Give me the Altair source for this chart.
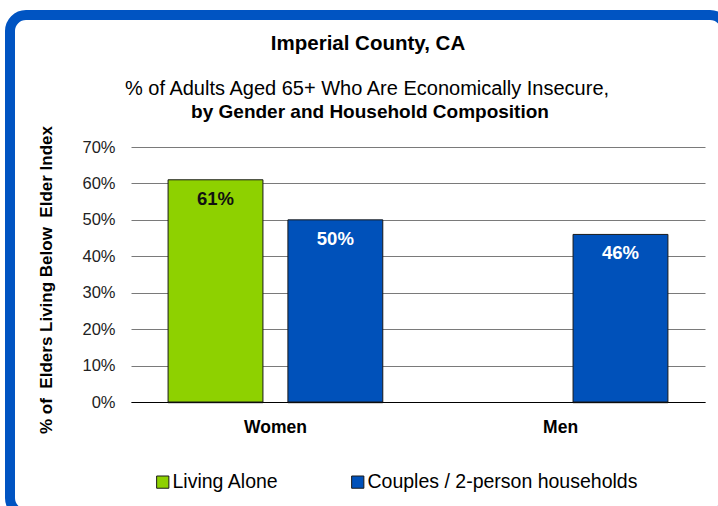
import altair as alt
import pandas as pd

# ---- data ----
genders = ["Women", "Women", "Men"]
series = ["Living Alone", "Couples / 2-person households", "Couples / 2-person households"]
values = [0.61, 0.50, 0.46]
labels = ["61%", "50%", "46%"]

gender_order = ["Women", "Men"]
series_order = ["Living Alone", "Couples / 2-person households"]
series_colors = ["#8ED100", "#0051BA"]
y_ticks = [0, 0.1, 0.2, 0.3, 0.4, 0.5, 0.6, 0.7]

title_main = "Imperial County, CA"
title_line1 = "% of Adults Aged 65+ Who Are Economically Insecure,"
title_line2 = "by Gender and Household Composition"
y_title = "% of\u00a0 Elders Living Below\u00a0 Elder Index"

df = pd.DataFrame({"gender": genders, "series": series, "value": values, "label": labels})

FONT = "Liberation Sans"
W, H = 574, 255

x_enc = alt.X("gender:N", sort=gender_order,
              scale=alt.Scale(domain=gender_order, paddingInner=0.247, paddingOuter=0.13),
              axis=alt.Axis(title=None, labelAngle=0, labelFontSize=17.5, labelFontWeight="bold",
                            labelColor="#000", labelPadding=16, ticks=False, domain=True,
                            domainColor="#000", domainWidth=1, grid=False))
xo_enc = alt.XOffset("series:N", sort=series_order,
                     scale=alt.Scale(domain=series_order, paddingInner=0.2083, paddingOuter=0))
y_enc = alt.Y("value:Q", scale=alt.Scale(domain=[0, 0.7], nice=False),
              axis=alt.Axis(title=None, values=y_ticks, format=".0%", labelFontSize=16.5,
                            labelColor="#222", labelPadding=16, ticks=False, domain=False,
                            grid=True, gridColor="#7a7a7a", gridWidth=1, labelOverlap=False))

base = alt.Chart(df)

shadow = base.mark_bar(color="#000", opacity=0.18, xOffset=3, yOffset=2).encode(
    x=x_enc, xOffset=xo_enc, y=y_enc
)

bars = base.mark_bar(stroke="#1a1a1a", strokeWidth=1).encode(
    x=x_enc, xOffset=xo_enc, y=y_enc,
    color=alt.Color("series:N", sort=series_order,
                    scale=alt.Scale(domain=series_order, range=series_colors),
                    legend=alt.Legend(title=None, orient="none", legendX=22, legendY=325,
                                      direction="horizontal", symbolType="square",
                                      symbolSize=150, symbolStrokeColor="#1a1a1a",
                                      symbolStrokeWidth=1, labelFontSize=19.5,
                                      labelColor="#000", labelOffset=0, columnPadding=69,
                                      labelLimit=400)),
)

texts = base.mark_text(fontSize=18.5, fontWeight="bold", baseline="middle", dy=19).encode(
    x=x_enc, xOffset=xo_enc, y=y_enc,
    text="label:N",
    color=alt.condition(alt.datum.series == "Living Alone", alt.value("#111"), alt.value("#fff")),
)

one = pd.DataFrame({"k": [0]})

frame = alt.Chart(one).mark_rect(fill=None, stroke="#0054C2", strokeWidth=10,
                                  cornerRadius=16).encode(
    x=alt.value(10 - 131), x2=alt.value(726 - 131),
    y=alt.value(15 - 147), y2=alt.value(514 - 147),
)

t0 = alt.Chart(one).mark_text(fontSize=20.5, fontWeight="bold", color="#000", baseline="alphabetic").encode(
    x=alt.value(368 - 131), y=alt.value(50 - 147), text=alt.value(title_main))
t1 = alt.Chart(one).mark_text(fontSize=20, color="#000", baseline="alphabetic").encode(
    x=alt.value(367 - 131), y=alt.value(95 - 147), text=alt.value(title_line1))
t2 = alt.Chart(one).mark_text(fontSize=19, fontWeight="bold", color="#000", baseline="alphabetic").encode(
    x=alt.value(370 - 131), y=alt.value(118 - 147), text=alt.value(title_line2))
ty = alt.Chart(one).mark_text(fontSize=17, fontWeight="bold", color="#000", angle=270,
                              baseline="middle").encode(
    x=alt.value(47 - 131), y=alt.value(280 - 147), text=alt.value(y_title))

chart = alt.layer(frame, shadow, bars, texts, t0, t1, t2, ty).properties(
    width=W, height=H,
    autosize=alt.AutoSizeParams(type="none"),
    padding={"left": 131, "top": 147, "right": 718 - 131 - W, "bottom": 506 - 147 - H},
    background="white",
).configure(font=FONT).configure_view(stroke=None)

chart.save("out.html", embed_options={"renderer": "svg", "actions": False})
